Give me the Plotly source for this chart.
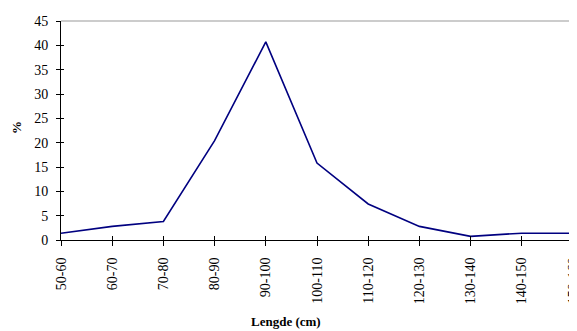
import plotly.graph_objects as go

categories = ["50-60", "60-70", "70-80", "80-90", "90-100", "100-110",
              "110-120", "120-130", "130-140", "140-150", "150-160"]
percent = [1.4, 2.8, 3.8, 20.4, 40.7, 15.8, 7.4, 2.8, 0.75, 1.4, 1.4]
y_ticks = [0, 5, 10, 15, 20, 25, 30, 35, 40, 45]

xpos = list(range(len(categories)))
FONT = "Liberation Serif"

fig = go.Figure()
fig.add_trace(go.Scatter(x=xpos, y=percent, mode="lines",
                         line=dict(color="#000080", width=1.6),
                         showlegend=False, cliponaxis=False))
# helper trace for overlay axes (inner tick marks)
fig.add_trace(go.Scatter(x=[xpos[0]], y=[0], xaxis="x2", yaxis="y2",
                         mode="markers", marker=dict(opacity=0),
                         showlegend=False, hoverinfo="skip"))

# page body has an 8px default margin, so the figure is made 8px smaller
fig.update_layout(
    width=569, height=323,
    margin=dict(l=53, r=4, t=13, b=91, autoexpand=False),
    paper_bgcolor="white", plot_bgcolor="white",
    font=dict(family=FONT, size=14, color="black"),
    xaxis=dict(range=[0, len(categories) - 1], tickmode="array",
               tickvals=xpos, ticktext=categories, tickangle=-90,
               ticks="outside", ticklen=5, tickcolor="black", tickwidth=1,
               showline=True, linecolor="black", linewidth=1,
               showgrid=False, zeroline=False, ticklabelstandoff=6,
               automargin=False, ticklabeloverflow="allow",
               tickfont=dict(family=FONT, size=14)),
    yaxis=dict(range=[0, 45], tickmode="array", tickvals=y_ticks,
               ticks="outside", ticklen=4, tickcolor="black", tickwidth=1,
               showline=True, linecolor="black", linewidth=1,
               showgrid=False, zeroline=False, ticklabelstandoff=5,
               automargin=False, ticklabeloverflow="allow",
               tickfont=dict(family=FONT, size=14)),
    xaxis2=dict(overlaying="x", range=[0, len(categories) - 1],
                tickmode="array", tickvals=xpos, ticks="inside", ticklen=4,
                tickcolor="black", showticklabels=False, showgrid=False,
                zeroline=False, showline=False, side="bottom", automargin=False),
    yaxis2=dict(overlaying="y", range=[0, 45], tickmode="array",
                tickvals=y_ticks, ticks="inside", ticklen=3,
                tickcolor="black", showticklabels=False, showgrid=False,
                zeroline=False, showline=False, side="left", automargin=False),
    shapes=[
        dict(type="line", xref="paper", yref="paper", x0=0, x1=1, y0=1, y1=1,
             line=dict(color="#999999", width=1.2), layer="below"),
        dict(type="line", xref="paper", yref="paper", x0=1, x1=1, y0=0, y1=1,
             line=dict(color="#999999", width=1.2), layer="below"),
    ],
    annotations=[
        dict(text="<b>Lengde (cm)</b>", xref="paper", yref="paper",
             x=0.44, y=-0.374, xanchor="center", yanchor="middle",
             showarrow=False, font=dict(family=FONT, size=13)),
        dict(text="<b>%</b>", xref="paper", yref="paper", textangle=-90,
             x=-0.086, y=0.516, xanchor="center", yanchor="middle",
             showarrow=False, font=dict(family=FONT, size=13)),
    ],
)

fig.write_html("out.html")
